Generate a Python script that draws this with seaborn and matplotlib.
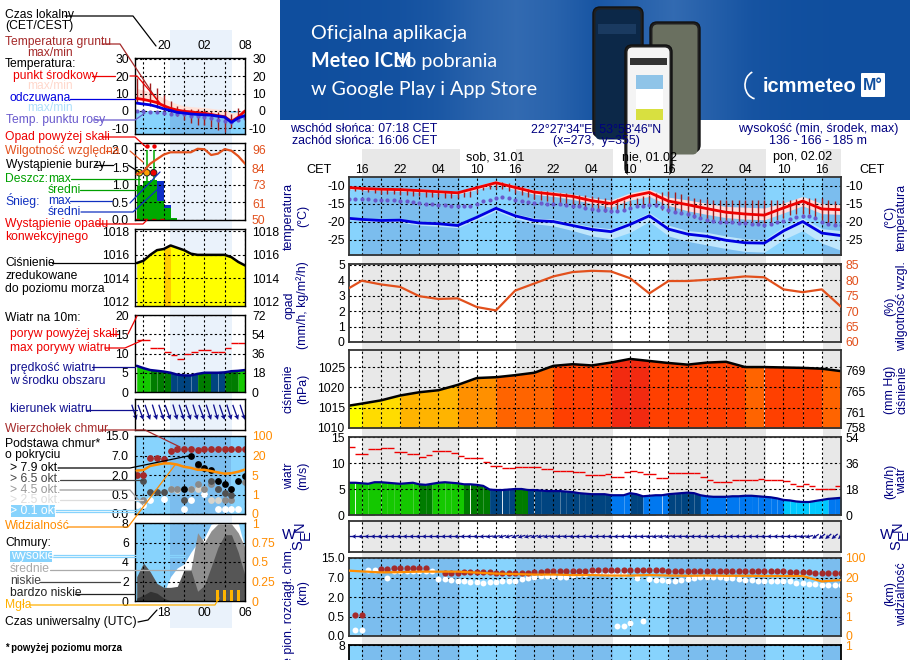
import numpy as np
import seaborn as sns
import matplotlib
matplotlib.use("Agg")
import matplotlib.pyplot as plt
from matplotlib.lines import Line2D
from matplotlib.patches import Rectangle, FancyBboxPatch
from matplotlib.ticker import NullLocator

nan = np.nan
sns.set_theme(style="white")
plt.rcParams['font.family'] = ['Liberation Sans', 'DejaVu Sans']
plt.rcParams['axes.unicode_minus'] = False

# ---------------- main panel data (hour offsets, CET; 16 = first 16:00)
hours3 = [14,16,19,22,25,28,31,34,37,40,43,46,49,52,55,58,61,64,67,70,73,76,79,82,85,88,91]
hours1 = list(range(14, 92))
temp_mid = [-10.5,-10.8,-11,-11.1,-11.4,-11.7,-12,-10.6,-9.2,-10.5,-11.8,-12.4,-13,-14.2,-15,-13,-11.9,-14.3,-15.3,-16.4,-17.4,-17.9,-18.2,-16.2,-14.3,-16.5,-16.7]
temp_hi = [-10.2,-10.4,-10.6,-10.7,-10.9,-11.2,-11.6,-10,-8.6,-9.9,-11.2,-11.7,-12.3,-13.4,-14,-12,-11,-13.2,-14,-14.9,-15.8,-16,-16.2,-14.8,-13,-15,-15.3]
temp_lo = [-10.9,-11.2,-11.4,-11.5,-11.8,-12.1,-12.4,-11.1,-9.7,-11.1,-12.4,-13,-13.8,-15,-16,-14,-13,-15.5,-17,-18,-18.9,-19.3,-19.5,-17.6,-15.6,-17.8,-18]
feel_mid = [-19.1,-19.4,-19.7,-19.6,-20.4,-20.6,-21.1,-18.8,-16.3,-18.4,-19.7,-20,-21.1,-22.2,-22.8,-20.8,-18.4,-22.1,-23.5,-24.1,-25.2,-25.9,-26,-22.6,-20,-23.2,-23.9]
feel_hi = [-18.7,-19,-19.3,-19.2,-20,-20.2,-20.7,-18.2,-15.7,-17.8,-19,-19.3,-20.4,-21.4,-22,-20,-17.5,-21,-22.5,-23,-24,-24.8,-25,-21.5,-19,-22,-22.5]
feel_lo = [-19.5,-19.9,-20.1,-20.2,-21,-21.3,-21.7,-19.5,-17,-19.2,-20.6,-21.2,-22.5,-24,-24.8,-23,-20,-24,-25.5,-26.5,-27.5,-28.3,-28.5,-25,-22.5,-26,-28]
ground_max = [-10.2,-10.4,-10.5,-10.6,-10.7,-10.7,-10.8,-10.8,-10.9,-10.9,
              -11,-11,-11.1,-11.2,-11.3,-11.4,-11.5,-11.6,-11.7,-11.5,
              -10.9,-10.3,-9.7,-9.2,-9,-9.2,-9.7,-10.2,-10.8,-11.1,
              -11.4,-11.6,-11.8,-12,-12.1,-12.3,-12.5,-12.7,-12.9,-13.1,
              -13.4,-13.6,-13.8,-13.9,-14,-13.4,-12.9,-12.5,-12.1,-11.7,
              -11.5,-11.7,-12.3,-12.9,-13.4,-13.7,-13.8,-13.9,-14,-14,
              -14,-14,-14,-14,-14,-14,-14,-14,-14,-14,
              -13.8,-13.6,-13.5,-13.4,-13.5,-14,-14.3,-14.5]
ground_min = [-11.3,-11.5,-11.6,-11.8,-12,-12.2,-12.3,-12.4,-12.5,-12.6,
              -12.8,-13,-13.1,-13.2,-13.3,-13.4,-13.4,-13.4,-13.3,-13.1,
              -12,-11.3,-10.8,-10.8,-11,-11.5,-12,-12.7,-13.2,-13.6,
              -14,-14.3,-14.6,-14.9,-15.2,-15.5,-15.8,-16.1,-16.5,-17,
              -17.2,-17.4,-17,-16.6,-16.3,-15.8,-15.5,-15.5,-16,-16.8,
              -17.2,-17.5,-18,-18.5,-19,-19.4,-19.6,-19.8,-20,-20.2,
              -20.3,-20.3,-20.3,-20.3,-20.3,-20.3,-20,-19.5,-19,-18.3,
              -18,-17.8,-18,-19,-20,-20.6,-21,-21.2]
dew = [-13.6,-13.7,-13.7,-13.8,-13.9,-14,-14,-14.1,-14.2,-14.3,
       -14.5,-14.7,-15,-15.2,-15.3,-15.5,-15.6,-15.7,-15.8,-15.6,
       -15,-14.4,-13.9,-13.5,-13.3,-13.5,-14,-14.4,-14.6,-14.7,
       -14.8,-15,-15.1,-15.2,-15.4,-15.6,-15.8,-16.2,-16.5,-16.8,
       -16.9,-17.1,-17.1,-16.7,-16.2,-15.8,-15.6,-15.5,-15.5,-15.9,
       -16.9,-17.3,-17.7,-18,-18.4,-19,-19.6,-19.8,-20,-20.1,
       -20.2,-20.3,-20.4,-20.6,-20.8,-20.9,-20.7,-20,-19.8,-19.3,
       -18.7,-18.4,-18.5,-19,-20,-20.7,-21,-21]
humidity = [77.4,79.8,78.6,77.8,74.8,73.9,74.1,71.3,70.2,76.6,78.9,81.2,82.6,83,82.8,80.6,75.7,79.7,79.7,80.1,80.6,81.2,80.9,77,76.1,77,71.4]
pressure = [1015.5,1016,1016.8,1018,1018.8,1019.3,1020.6,1022.3,1022.5,1023,1023.6,1025.3,1025.7,1025.4,1026.1,1027,1026.5,1026,1025.6,1026.1,1026.3,1025,1025,1024.9,1024.8,1024.6,1024]
pressure_class = [0,1,1,2,2,2,3,3,4,4,4,5,5,5,6,6,5,5,5,5,5,4,5,5,5,4]
wind = [6.2,6.2,6.1,6.0,6.3,6.3,6.2,6.1,6.0,6.1,
        6.2,5.9,5.8,6.0,6.2,6.3,6.2,6.1,5.9,5.9,
        5.8,5.6,4.9,4.8,4.8,4.9,5.0,5.0,4.8,4.8,
        4.7,4.6,4.6,4.6,4.5,4.4,4.2,4.1,4.0,4.0,
        4.0,3.8,3.8,3.8,4.2,4.0,3.6,3.7,3.8,3.8,
        4.0,4.1,4.2,4.3,4.2,3.8,3.6,3.5,3.5,3.5,
        3.6,3.6,3.7,3.7,3.6,3.5,3.4,3.2,2.9,2.8,
        2.6,2.5,2.5,2.7,2.9,3.1,3.2,3.3]
gust = [13,11.7,11.7,12.7,12.7,12.9,12.9,12.1,12.1,11.7,
        11.7,11.1,11.5,12.3,12.3,12.3,11.9,11.4,11,10.9,
        10.9,10.1,9.5,9.5,9.1,9.1,9.3,9.3,9.3,9.3,
        8.9,8.9,8.5,8.5,8.5,8.2,8.2,7.6,7.6,7.6,
        7.8,7.4,7.4,8.2,8.4,8.2,7.8,7.8,7.1,7.1,
        8,8,8,8,8,7.4,6.8,6.4,6.4,6.4,
        6.7,6.7,6.8,6.8,7,6.7,6.7,6.8,6.5,6,
        5.6,6,5.6,5,5,5,5.6,5.6]
wind_dir = [180,180,181,180,179,180,181,180,180,179,
            180,181,180,180,180,181,180,180,181,180,
            180,183,188,192,195,197,198,197,195,194,
            192,190,188,186,184,182,182,181,181,182,
            181,180,182,183,183,184,185,186,190,192,
            190,186,184,183,182,181,181,180,180,180,
            181,180,181,180,180,181,180,180,181,182,
            184,188,195,215,218,220,220,220]
cloud_top = [nan,.6,.6,nan,nan,10.5,10.5,10.8,10.8,10.8,
             10.8,10.8,10.8,nan,nan,8.8,8.9,8.9,9.2,9.3,
             9.3,9.2,9.2,9,9,9,9,9,9,9.2,
             9.4,9.6,9.8,9.8,9.8,9.8,9.8,9.8,10,10.2,
             10.2,10.2,10.2,10.2,10.2,10.2,10.2,10.2,10.2,10.2,
             9.8,9.8,9.8,9.8,9.8,9.8,9.8,9.8,9.8,9.8,
             9.8,9.8,9.8,9.8,9.8,9.8,9.8,9.8,9.8,9.2,
             9.2,9.2,9.2,9,8.8,8.8,8.8,8.8]
cloud_white = [nan,nan,nan,10,10,10,7,9.8,9.8,9.8,
               9.8,9.8,9.8,9.8,6.6,6.5,6.4,6.2,6,5.9,
               5.8,5.7,5.9,5.8,6,6,6,6.6,6.8,7.2,
               7.7,7.6,7.5,7.2,7.2,8,8.5,8.6,8.8,8.8,
               8.8,8.6,8.6,8.6,nan,7,nan,6.5,6.4,6.3,
               6.2,6.2,6.4,6.6,7,7.4,7.2,7.2,7.2,7,
               6.8,6.6,6.4,6.4,6.2,6.2,6.2,6.2,6.2,6,
               5.6,5.6,5.4,5.3,5.2,5.2,5.2,5.2]
cloud_low = [nan,.15,.15,nan,nan,nan,nan,nan,nan,nan,
             nan,nan,nan,nan,nan,nan,nan,nan,nan,nan,
             nan,nan,nan,nan,nan,nan,nan,nan,nan,nan,
             nan,nan,nan,nan,nan,nan,nan,nan,nan,nan,
             nan,nan,.25,.25,.33,nan,.38,nan,nan,nan,
             nan,nan,nan,nan,nan,nan,nan,nan,nan,nan,
             nan,nan,nan,nan,nan,nan,nan,nan,nan,nan,
             nan,nan,nan,nan,nan,nan,nan,nan]
visibility = [48,45,41,42,44,44,44,40,36,34,32,32,30,30,28,28,30,28,27,28,27,27,26,26,26,17,18]

# ---------------- left legend panel data (hours 16..32)
l_hours = list(range(16, 33))
l_temp = [7.2,6.6,5.8,4.8,3,1.5,.5,-.2,-.5,-1,-1.3,-2,-2.7,-3.3,-6,-3.5,0]
l_temp_hi = [13,12,11,9.5,7.5,5.5,4,3,2.5,2.2,2,1.5,1,1,-1,-.5,1]
l_feel = [4.5,4,3.5,2.5,1.2,.3,-.8,-1.2,-1.7,-2,-2.2,-2.4,-3,-3.5,-6.5,-4,-2.7]
l_feel_lo = [0,0,-.3,-.8,-1.5,-3,-5,-6.5,-8,-9,-10,-11,-12,-13,-14,-11,-7]
l_dew = [0,0,-.3,-.5,-1,-1.5,-1.8,-2,-2.6,-3,-3.5,-4,-5,-5.5,-6.5,-5,-4]
l_ground_max = [19,18,16,13,9,6,3,2,1,1,.5,0,-.5,0,-2,2,1]
l_ground_min = [5,4,3,2,0,-1,-3,-5,-7,-8,-8,-9,-11,-12,-10,-6,-3]
l_rain = [.96,1.1,1.15,.53,.33,.06,0,0,0,0,0,0,0,0,0,0,0]
l_snow = [0,0,0,1.1,.43,0,0,0,0,0,0,0,0,0,0,0,0]
l_hum = [80,82,87,90,93,94.5,94.5,94.5,94.5,96.8,96.5,92.7,93.6,96.6,95.5,92,87]
l_storm_h = [16.4,17.5,18.5]
l_storm_top = [1.35,2.0,2.0]
l_storm_mark = [1.35,1.35,1.35]
l_over_h = [17.5,18.5]
l_over = [2.1,2.1]
l_press = [1015.3,1015.5,1016,1016.4,1016.5,1016.8,1016.6,1016.4,1016.1,1016,1016,1016,1016,1016,1015.8,1015.4,1015.1]
l_wind = [6.8,6.2,5.7,5.5,5.3,5,4.5,4.3,4.3,4.7,5,5,5,5.1,5.4,5.5,5.7]
l_wind_class = [0,0,1,1,1,2,2,2,2,1,1,2,2,1,1,0]
l_gust = [13.4,13.4,11.5,11.5,10.5,9.6,8.7,9.9,10.4,10.8,10.8,10.4,10.4,11.5,12.8,12.8]
l_dir = [-72,-70,-71,-73,-72,-70,-74,-72,-71,-73,-70,-72,-74,-71,-73,-70,-72]
l_top = [2,2,6.4,6.4,6,9,9.8,9.8,9.8,9.2,9.8,9.8,9.8,9.8,9.8,9.8,9.8]
l_black = [nan,nan,nan,nan,nan,nan,nan,.93,7,4.7,3.9,3.4,1.52,1.27,.9,1.57,1.96]
l_dark = [nan,1.57,.68,.68,.68,nan,nan,.37,nan,4.5,nan,1.57,.93,.62,.5,nan,nan]
l_mid = [nan,.37,nan,nan,nan,.93,.93,nan,.93,1.27,.93,1.27,.93,.37,.37,nan,1.5]
l_light = [nan,nan,nan,nan,nan,.9,.85,nan,.9,.9,.9,.37,.37,nan,nan,nan,nan]
l_white = [.24,.24,.37,nan,.39,nan,nan,.13,.37,nan,.56,nan,.13,.13,.13,.13,nan]
l_vis = [8.4,8.8,12,13,13.9,13.9,13,11.3,10.5,9,9,8,7,6,6.4,7.5,9.2]
l_high = [0,0,0,0,.8,2.5,3.4,3.8,5,6,6.5,7.9,8,8,8,8,5.4]
l_medium = [0,0,0,0,0,0,0,1.5,3.2,7,6,7.2,7.9,7.9,7.9,7,5.5]
l_lowc = [2.5,3.9,3,1.8,1.4,1.4,1.5,3.2,3.2,1,1.6,3.5,5.5,6.8,6.8,5,2.6]
l_vlow = [.3,.6,1,.8,.3,0,0,0,0,0,0,0,0,0,0,0,0]
l_fog_h = [28,29,30,31]
l_fog = [.14,.14,.14,.14]

# tick labels
main_x_labels = ["16","22","04","10","16","22","04","10","16","22","04","10","16"]
km_ticks = [0,.5,2,7,15]
vis_ticks = [0,1,5,20,100]

SKY, SKYN = "#87d3fd", "#7bbdee"
ORG, ORANGE = "#e2501c", "#ff8c00"
NAVY = "#000080"
W, H = 910, 660
fig = plt.figure(figsize=(9.1, 6.6), dpi=100, facecolor="white")


def A(x0, y0, x1, y1, frame="black", lw=1.0):
    ax = fig.add_axes([x0/W, 1-y1/H, (x1-x0)/W, (y1-y0)/H])
    ax.patch.set_alpha(0)
    for s in ax.spines.values():
        s.set_color(frame); s.set_linewidth(lw); s.set_zorder(6)
    ax.tick_params(length=0, labelsize=8.7, labelcolor="black", pad=3)
    return ax


def T(x, y, s, color="black", ha="left", va="center", size=8.7, rot=0, **kw):
    fig.text(x/W, 1-y/H, s, color=color, ha=ha, va=va, fontsize=size, rotation=rot, **kw)


def L(pts, color="black", lw=0.9):
    xs = [p[0]/W for p in pts]; ys = [1-p[1]/H for p in pts]
    fig.add_artist(Line2D(xs, ys, color=color, lw=lw, zorder=20))


def line(ax, x, y, color, lw=1.6, **kw):
    sns.lineplot(x=x, y=y, ax=ax, color=color, lw=lw, legend=False, errorbar=None, sort=False, zorder=4, **kw)
    ax.set(xlabel="", ylabel="")


def dots(ax, x, y, color, s=16, zorder=4):
    sns.scatterplot(x=x, y=y, ax=ax, color=color, s=s, linewidth=0, legend=False, zorder=zorder)
    ax.set(xlabel="", ylabel="")


def grid(ax, xt, yt, xlim, ylim, ylabels=None):
    ax.set_xlim(*xlim); ax.set_ylim(*ylim)
    ax.set_xticks(xt); ax.set_xticklabels([])
    ax.set_yticks(yt)
    ax.set_yticklabels(ylabels if ylabels is not None else [str(v) for v in yt])
    ax.yaxis.set_minor_locator(NullLocator())
    ax.grid(True, color="black", lw=0.8, linestyle=(0, (2, 2.2)))
    ax.set_axisbelow(False)


def right(ax, yt, labels, color="black", pad=3, ha="left", scale=None):
    tw = ax.twinx()
    tw.patch.set_alpha(0)
    if scale is not None:
        tw.set_yscale("function", functions=scale)
    tw.set_ylim(*yt[0])
    tw.set_yticks(yt[1]); tw.set_yticklabels(labels)
    tw.yaxis.set_minor_locator(NullLocator())
    tw.tick_params(length=0, labelsize=8.7, labelcolor=color, pad=pad)
    for lab in tw.get_yticklabels():
        lab.set_ha(ha)
    for s in tw.spines.values():
        s.set_visible(False)
    tw.grid(False)
    return tw


def km_fwd(v):
    return np.interp(v, km_ticks, [0,1,2,3,4])
def km_inv(v):
    return np.interp(v, [0,1,2,3,4], km_ticks)
def vis_fwd(v):
    return np.interp(v, vis_ticks, [0,1,2,3,4])
def vis_inv(v):
    return np.interp(v, [0,1,2,3,4], vis_ticks)


# ---------------- backgrounds
bg = fig.add_axes([0, 0, 1, 1], zorder=-5)
bg.set_xlim(0, W); bg.set_ylim(H, 0); bg.axis("off")
bg.add_patch(Rectangle((170, 30), 62, 598, color="#eaf2fb", lw=0))
night = [(16, 31.3), (40.1, 55.3), (64.1, 79.3), (88.1, 91)]
for a, b in night:
    x0 = 362+(a-16)*6.39; x1 = 362+(b-16)*6.39
    bg.add_patch(Rectangle((x0, 149), x1-x0, 511, color="#e8e8e8", lw=0))

# banner
grad_x = np.array([0,.02,.05,.1,.25,.55,.75,.55,.2,.5,.75,.45,.15,.05,.02,0,0])
grad = np.linspace(0, 1, 630)
band = np.interp(grad, np.linspace(0, 1, len(grad_x)), grad_x)
rgb = np.zeros((120, 630, 3))
c0 = np.array([15, 78, 158])/255; c1 = np.array([62, 116, 184])/255
for i in range(3):
    rgb[:, :, i] = c0[i] + (c1[i]-c0[i])*band
bg.imshow(rgb, extent=(280, 910, 120, 0), aspect="auto", zorder=0)
bg.set_xlim(0, W); bg.set_ylim(H, 0)
for (px, py, pw, pface) in [(593, 7, 50, "#0c2848"), (650, 22, 50, "#6a7060"), (625, 45, 47, "#f4f4f4")]:
    bg.add_patch(FancyBboxPatch((px, py), pw, 130, boxstyle="round,pad=0,rounding_size=7", fc="#202020", ec="#111111", lw=1, zorder=1))
    bg.add_patch(FancyBboxPatch((px+2.5, py+2.5), pw-5, 130, boxstyle="round,pad=0,rounding_size=5", fc=pface, ec="none", zorder=1))
bg.add_patch(Rectangle((636, 75), 27, 14, color="#8fc4e8", lw=0, zorder=2))
bg.add_patch(Rectangle((636, 89), 27, 20, color="#ffffff", lw=0, zorder=2))
bg.add_patch(Rectangle((636, 109), 27, 11, color="#d8e040", lw=0, zorder=2))
bg.add_patch(Rectangle((630, 58), 37, 7, color="#333333", lw=0, zorder=2))
bg.add_patch(Rectangle((598, 24), 38, 10, color="#1a3a60", lw=0, zorder=2))
bg.add_patch(Rectangle((280, 120), 630, 0.01, color="white", lw=0))
bg.add_patch(FancyBboxPatch((861, 73), 24, 24, boxstyle="round,pad=0,rounding_size=1", fc="white", ec="none", zorder=2))
bg.set_xlim(0, W); bg.set_ylim(H, 0)

T(311, 33, "Oficjalna aplikacja", "white", size=14.2, family="Lato")
T(311, 61, "Meteo ICM", "white", size=14.2, family="Lato", weight="bold")
T(394, 61, "do pobrania", "white", size=14.2, family="Lato")
T(311, 89, "w Google Play i App Store", "white", size=14.2, family="Lato")
T(763, 86, "icmmeteo", "white", size=14.5, family="Liberation Sans", weight="bold")
T(873, 85, "M°", "#0f4e9e", ha="center", size=11.5, weight="bold")
fig.add_artist(matplotlib.patches.Arc((757/W*9.1, (660-85)/660*6.6), 0.24, 0.28, theta1=110, theta2=260,
                                      transform=fig.dpi_scale_trans, color="white", lw=1.2))

# ---------------- main panels
MX = (14, 91)
mt = list(range(16, 92, 3))
P = (349, 841)

# temperature
ax = A(P[0], 177, P[1], 255, "#333333", 1.3)
ax.fill_between([14, 91], -40, 5, color=SKY, lw=0, zorder=0)
for a, b in night:
    ax.fill_between([a, b], -40, 5, color=SKYN, lw=0, zorder=0.5)
ax.fill_between(hours3, feel_lo, feel_hi, color="#bfe6fc", lw=0, zorder=1)
ax.fill_between(hours3, temp_lo, temp_hi, color="#ffdcdc", lw=0, zorder=1)
ax.vlines(hours1, ground_min, ground_max, color="#a01c1c", lw=1.0, zorder=3)
dots(ax, hours1, dew, "#6a5acd", s=9)
line(ax, hours3, temp_mid, "#ee0000", lw=2.0)
line(ax, hours3, feel_mid, "#0000e0", lw=2.0)
grid(ax, mt, [-10,-15,-20,-25], MX, (-29.3, -7.6))
ax.set_xticks(mt)
ax.xaxis.tick_top()
ax.set_xticklabels([main_x_labels[i//2] if i % 2 == 0 else "" for i in range(len(mt))])
ax.tick_params(axis="x", labeltop=True, labelbottom=False, pad=1)
right(ax, ((-29.3, -7.6), [-10,-15,-20,-25]), ["-10","-15","-20","-25"])

# precipitation / humidity
ax = A(P[0], 264, P[1], 342, "#333333", 1.3)
grid(ax, mt, [0,1,2,3,4,5], MX, (0, 5.04))
tw = right(ax, ((60, 85.2), [60,65,70,75,80,85]), ["60","65","70","75","80","85"], ORG)
line(tw, hours3, humidity, ORG, lw=1.6)
tw.set_ylim(60, 85.2)

# pressure
ax = A(P[0], 350, P[1], 428, "#333333", 1.3)
press_colors = ["#ffff00","#ffdc00","#ffb400","#ff9000","#ff6400","#ff4000","#f22a10"]
for i, c in enumerate(pressure_class):
    ax.fill_between(hours3[i:i+2], 1000, pressure[i:i+2], color=press_colors[c], lw=0, zorder=1)
line(ax, hours3, pressure, "black", lw=1.8)
grid(ax, mt, [1010,1015,1020,1025], MX, (1010, 1029.2))
right(ax, ((758, 773), [758,761,765,769]), ["758","761","765","769"])

# wind
ax = A(P[0], 437, P[1], 515, "#333333", 1.3)
wc = ["#14c800", "#007c00", "#004480", "#0078f0", "#00c8ff"]
def wind_color(v):
    return wc[0] if v >= 5.95 else wc[1] if v >= 4.95 else wc[2] if v >= 3.9 else wc[3] if v >= 3.0 else wc[4]
for i in range(len(hours1)-1):
    ax.fill_between(hours1[i:i+2], 0, wind[i:i+2], color=wind_color(wind[i]), lw=0, zorder=1)
ax.hlines(gust, hours1, np.array(hours1)+1, color="#ee0000", lw=1.0, zorder=4)
line(ax, hours1, wind, "#000090", lw=1.6)
grid(ax, mt, [0,5,10,15], MX, (0, 15))
right(ax, ((0, 54), [0,18,36,54]), ["0","18","36","54"])

# wind direction
ax = A(P[0], 521, P[1], 552, "#333333", 1.3)
rad = np.deg2rad(wind_dir)
ax.quiver(hours1, np.zeros(len(hours1)), 8*np.cos(rad), 8*np.sin(rad), angles="uv", scale_units="dots", scale=1,
          units="dots", width=1.3, headwidth=3.5, headlength=3.5, headaxislength=3, pivot="mid", color="#101090", zorder=4)
grid(ax, mt, [], MX, (-1, 1))

# clouds / visibility
ax = A(P[0], 558, P[1], 636, "#333333", 1.3)
ax.set_yscale("function", functions=(km_fwd, km_inv))
ax.fill_between([14, 91], 0, 15, color=SKY, lw=0, zorder=0)
for a, b in night:
    ax.fill_between([a, b], 0, 15, color=SKYN, lw=0, zorder=0.5)
dots(ax, hours1, cloud_white, "white", s=18)
dots(ax, hours1, cloud_low, "white", s=18)
dots(ax, hours1, cloud_top, "#a52a2a", s=20)
grid(ax, mt, km_ticks, MX, (0, 15), ["0.0","0.5","2.0","7.0","15.0"])
tw = right(ax, ((0, 100), vis_ticks), ["0","1","5","20","100"], ORANGE, scale=(vis_fwd, vis_inv))
line(tw, hours3, visibility, ORANGE, lw=1.6)
tw.set_ylim(0, 100)

# cloud fraction (runs off the bottom of the picture)
ax = A(P[0], 645, P[1], 723, "black", 1.3)
ax.fill_between([14, 91], 0, 8, color=SKY, lw=0, zorder=0)
for a, b in night:
    ax.fill_between([a, b], 0, 8, color=SKYN, lw=0, zorder=0.5)
grid(ax, mt, [0,2,4,6,8], MX, (0, 8))
right(ax, ((0, 1), [0,.25,.5,.75,1]), ["0","0.25","0.5","0.75","1"], ORANGE)

# ---------------- left panels
LX = (15.75, 32)
lt = [17, 20, 23, 26, 29, 32]
Q = (135, 245)

# temperature
ax = A(Q[0], 58, Q[1], 134)
ax.fill_between([15.75, 32], -13.4, 0, color=SKY, lw=0, zorder=0)
ax.fill_between([20.9, 30], -13.4, 0, color=SKYN, lw=0, zorder=0.5)
ax.fill_between(l_hours, l_feel_lo, l_feel, color="#bfe6fc", lw=0, zorder=1, where=[True]*5+[True]*12, alpha=0)
ax.fill_between(l_hours, l_temp, l_temp_hi, color="#ffe2d8", lw=0, zorder=1)
ax.fill_between(l_hours, l_feel, l_temp, color="#ffe2d8", lw=0, zorder=1, alpha=0)
ax.vlines(l_hours, l_ground_min, l_ground_max, color="#a01c1c", lw=1.0, zorder=3)
dots(ax, l_hours, l_dew, "#6a5acd", s=9)
line(ax, l_hours, l_temp, "#ee0000", lw=2.0)
line(ax, l_hours, l_feel, "#0000e0", lw=2.0)
grid(ax, lt, [-10,0,10,20,30], LX, (-13.2, 30.4))
ax.set_xticks(lt)
ax.xaxis.tick_top()
ax.set_xticklabels(["", "20", "", "02", "", "08"])
ax.tick_params(axis="x", labeltop=True, labelbottom=False, pad=4)
ax.tick_params(axis="y", pad=4.5)
right(ax, ((-13.2, 30.4), [-10,0,10,20,30]), ["-10","0","10","20","30"], pad=15, ha="right")

# precipitation
ax = A(Q[0], 143, Q[1], 220)
ax.bar(np.array(l_hours)+.5, np.array(l_rain)+np.array(l_snow)*0, width=1, color="#00aa00", lw=0, zorder=1)
ax.bar(np.array(l_hours)+.5, np.maximum(np.array(l_snow)-np.array(l_rain), 0), bottom=l_rain, width=1, color="#1030c8", lw=0, zorder=1)
ax.vlines(l_storm_h, l_rain[:3], l_storm_top, color="#00aa00", lw=1.1, zorder=3)
ax.hlines([.02], 15.75, 20.2, color="#ee0000", lw=1, linestyle=(0, (3, 3)), zorder=4)
grid(ax, lt, [0,.5,1,1.5,2], LX, (0, 2.2), ["0.0","0.5","1.0","1.5","2.0"])
ax.tick_params(axis="y", pad=4.5)
dots(ax, l_over_h, l_over, "#ee0000", s=10, zorder=5)
ax.scatter(l_storm_h, l_storm_mark, c=["#ffe000", "#ffa000", "#ee0000"], s=22, edgecolor="#222222", linewidth=.7, zorder=5)
tw = right(ax, ((50, 100.6), [50,61,73,84,96]), ["50","61","73","84","96"], ORG, pad=5)
line(tw, l_hours, l_hum, ORG, lw=1.6)
tw.set_ylim(50, 100.6)

# pressure
ax = A(Q[0], 229, Q[1], 306)
ax.fill_between(l_hours, 1000, l_press, color="#ffff00", lw=0, zorder=1)
ax.fill_between(l_hours[4:6], 1000, l_press[4:6], color="#ffcc00", lw=0, zorder=1.5)
line(ax, l_hours, l_press, "black", lw=1.8)
grid(ax, lt, [1012,1014,1016,1018], LX, (1011.65, 1018.2))
ax.tick_params(axis="y", pad=4.5)
right(ax, ((1011.65, 1018.2), [1012,1014,1016,1018]), ["1012","1014","1016","1018"], pad=5)

# wind
ax = A(Q[0], 315, Q[1], 392)
lwc = ["#14c800", "#007c00", "#004480"]
for i, c in enumerate(l_wind_class):
    ax.fill_between(l_hours[i:i+2], 0, l_wind[i:i+2], color=lwc[c], lw=0, zorder=1)
ax.hlines(l_gust, l_hours[:-1], np.array(l_hours[:-1])+1, color="#ee0000", lw=1.0, zorder=4)
line(ax, l_hours, l_wind, "#000090", lw=1.8)
grid(ax, lt, [0,5,10,15,20], LX, (0, 20))
ax.tick_params(axis="y", pad=4.5)
right(ax, ((0, 72), [0,18,36,54,72]), ["0","18","36","54","72"], pad=5)

# wind direction
ax = A(Q[0], 399, Q[1], 430)
rad = np.deg2rad(l_dir)
ax.quiver(l_hours, np.full(len(l_hours), -.35), 16*np.cos(rad), 16*np.sin(rad), angles="uv", scale_units="dots", scale=1,
          units="dots", width=1.3, headwidth=4, headlength=4, headaxislength=3.5, pivot="tip", color="#101090", zorder=4, clip_on=False)
grid(ax, lt, [], LX, (-1, 1))

# clouds
ax = A(Q[0], 436, Q[1], 514)
ax.set_yscale("function", functions=(km_fwd, km_inv))
ax.fill_between([15.75, 32], 0, 15, color=SKY, lw=0, zorder=0)
ax.fill_between([20.9, 30], 0, 15, color=SKYN, lw=0, zorder=0.5)
dots(ax, l_hours, l_white, "white", s=24)
dots(ax, l_hours, l_light, "#d8d4cc", s=24)
dots(ax, l_hours, l_mid, "#8a8a8a", s=24)
dots(ax, l_hours, l_dark, "#505050", s=24)
dots(ax, l_hours, l_black, "black", s=24)
dots(ax, l_hours, l_top, "#a52a2a", s=24)
grid(ax, lt, km_ticks, LX, (0, 15), ["0.0","0.5","2.0","7.0","15.0"])
ax.tick_params(axis="y", pad=4.5)
tw = right(ax, ((0, 100), vis_ticks), ["0","1","5","20","100"], ORANGE, pad=5, scale=(vis_fwd, vis_inv))
line(tw, l_hours, l_vis, ORANGE, lw=1.8)
tw.set_ylim(0, 100)

# cloud cover
ax = A(Q[0], 523, Q[1], 601)
ax.fill_between([15.75, 32], 0, 8, color=SKY, lw=0, zorder=0)
ax.fill_between([20.9, 30], 0, 8, color=SKYN, lw=0, zorder=0.5)
ax.fill_between(l_hours, 0, l_high, color="white", lw=0, zorder=1)
ax.fill_between(l_hours, 0, l_medium, color="#8f8f8f", lw=0, zorder=1.2)
ax.fill_between(l_hours, 0, l_lowc, color="#565656", lw=0, zorder=1.4)
ax.fill_between(l_hours, 0, l_vlow, color="#333333", lw=0, zorder=1.6)
grid(ax, lt, [0,2,4,6,8], LX, (0, 8))
ax.set_xticks(lt)
ax.set_xticklabels(["", "18", "", "00", "", "06"])
ax.tick_params(axis="x", labelbottom=True, pad=4)
ax.tick_params(axis="y", pad=4.5)
tw = right(ax, ((0, 1), [0,.25,.5,.75,1]), ["0","0.25","0.5","0.75","1"], ORANGE, pad=5)
tw.bar(l_fog_h, l_fog, width=.45, color="#ffb400", lw=0, zorder=4)
tw.set_ylim(0, 1)

# ---------------- header and axis captions
T(290, 129, "wschód słońca: 07:18 CET", NAVY, size=8.9)
T(292, 141, "zachód słońca: 16:06 CET", NAVY, size=8.9)
T(596, 129, "22°27'34\"E, 53°58'46\"N", NAVY, ha="center", size=8.9)
T(596, 141, "(x=273,  y=355)", NAVY, ha="center", size=8.9)
T(818, 129, "wysokość (min, środek, max)", NAVY, ha="center", size=8.9)
T(818, 141, "136 - 166 - 185 m", NAVY, ha="center", size=8.9)
T(319, 170, "CET", ha="center", size=9.2)
T(872, 170, "CET", ha="center", size=9.2)
T(495, 157, "sob, 31.01", ha="center", size=9)
T(649, 157, "nie, 01.02", ha="center", size=9)
T(803, 157, "pon, 02.02", ha="center", size=9)

for x0, x1, s0, s1, y, y1 in [
    (289, 303, "temperatura", "(°C)", 216, 216),
    (289, 303, "opad", "(mm/h, kg/m²/h)", 305, 305),
    (289, 303, "ciśnienie", "(hPa)", 389, 389),
    (289, 303, "wiatr", "(m/s)", 476, 476),
]:
    T(x0, y, s0, NAVY, ha="center", rot=90, size=8.9)
    T(x1, y1, s1, NAVY, ha="center", rot=90, size=8.9)
T(289, 547, "e pion. rozciągł. chm.", NAVY, ha="center", va="top", rot=90, size=8.9)
T(303, 593, "(km)", NAVY, ha="center", rot=90, size=8.9)
for s0, s1, y in [("(°C)", "temperatura", 217), ("(%)", "wilgotność wzgl.", 306), ("(mm Hg)", "ciśnienie", 390),
                  ("(km/h)", "wiatr", 481), ("(km)", "widzialność", 594)]:
    T(890, y, s0, NAVY, ha="center", rot=90, size=8.9)
    T(902, y, s1, NAVY, ha="center", rot=90, size=8.9)
for wx, nx, ex in [(289, 300, 306), (887, 898, 904)]:
    T(wx, 535, "W", NAVY, ha="center", size=10.5)
    T(nx, 527, "N", NAVY, ha="center", size=10.5, rot=90)
    T(nx-2, 545, "S", NAVY, ha="center", size=10.5, rot=90)
    T(ex, 535, "E", NAVY, ha="center", size=10.5, rot=90)

# ---------------- left legend
RED = "#ee0000"; BRN = "#a52a2a"; BLU = "#0000e0"; DBL = "#101090"; GRN = "#00a000"; SBL = "#1030c0"
T(5, 15, "Czas lokalny"); T(5, 26, "(CET/CEST)")
L([(65, 16), (133, 16), (156, 46)])
T(5, 42, "Temperatura gruntu", BRN); T(27, 53, "max/min", BRN)
L([(102, 44), (120, 44), (157, 100)], BRN)
T(5, 64, "Temperatura:")
T(13, 76, "punkt środkowy", RED)
L([(92, 76), (115, 76)], RED); L([(130, 76), (137, 76), (160, 103)], RED)
T(27, 86, "max/min", "#ffd8cc")
T(10, 98, "odczuwana", BLU); L([(70, 99), (135, 99)], BLU)
T(27, 108, "max/min", "#aee0fb")
T(6, 120, "Temp. punktu rosy", "#6a5acd"); L([(93, 120), (135, 120), (145, 113)], "#6a5acd")
T(5, 137, "Opad powyżej skali", RED); L([(102, 137), (135, 137), (146, 147)], RED)
T(5, 151, "Wilgotność względna", ORG); L([(106, 151), (110, 151)], ORG); L([(130, 151), (143, 162)], ORG)
T(6, 165, "Wystąpienie burzy"); L([(95, 165), (113, 165)]); L([(128, 165), (139, 172)])
T(5, 179, "Deszcz:", GRN); T(48, 179, "max", GRN); L([(71, 179), (140, 179)], GRN)
T(48, 190, "średni", GRN); L([(80, 190), (138, 190)], GRN)
T(5, 201, "Śnieg:", SBL); T(48, 201, "max", SBL); L([(70, 201), (112, 201)], SBL); L([(130, 203), (160, 172)], SBL)
T(48, 212, "średni", SBL); L([(81, 212), (133, 212), (160, 187)], SBL)
T(5, 224, "Wystąpienie opadu", RED); L([(96, 224), (143, 224), (147, 220)], RED)
T(5, 237, "konwekcyjnego", RED)
T(5, 263, "Ciśnienie"); L([(52, 263), (135, 263)])
T(5, 276, "zredukowane"); T(5, 289, "do poziomu morza")
T(5, 318, "Wiatr na 10m:")
T(10, 334, "poryw powyżej skali", RED); L([(110, 334), (118, 334)], RED); L([(128, 334), (137, 316)], RED)
T(10, 348, "max porywy wiatru", RED); L([(105, 348), (125, 348), (143, 340)], RED)
T(10, 368, "prędkość wiatru", DBL); L([(92, 367), (135, 367)], DBL)
T(10, 381, "w środku obszaru", DBL)
T(10, 409, "kierunek wiatru", DBL); L([(86, 410), (137, 410)], DBL)
T(5, 429, "Wierzchołek chmur", BRN); L([(100, 430), (145, 430), (180, 447)], BRN)
T(5, 444, "Podstawa chmur*"); T(5, 455, "o pokryciu")
T(10, 468, "> 7.9 okt."); L([(58, 468), (130, 468), (188, 456)])
T(10, 479, "> 6.5 okt.", "#444444"); L([(60, 480), (143, 480)], "#444444")
T(10, 490, "> 4.5 okt.", "#999999"); L([(60, 490), (130, 490), (143, 505)], "#999999")
T(10, 500, "> 2.5 okt.", "#dddddd"); L([(60, 500), (143, 500)], "#dddddd")
fig.patches.append(Rectangle((11/W, 1-517/H), 44/W, 12/H, transform=fig.transFigure, color=SKY, lw=0, zorder=15))
T(10, 511, "> 0.1 okt.", "white", zorder=21)
L([(55, 510), (135, 510)], SKY); L([(55, 512), (135, 512)], SKY)
T(5, 526, "Widzialność", ORANGE); L([(67, 527), (128, 527), (175, 465)], ORANGE)
T(5, 543, "Chmury:")
fig.patches.append(Rectangle((10/W, 1-562/H), 42/W, 11/H, transform=fig.transFigure, color=SKY, lw=0, zorder=15))
T(11, 556, "wysokie", "white", zorder=21)
L([(52, 555), (185, 555)], SKY); L([(52, 557), (185, 557)], SKY)
T(10, 569, "średnie", "#aaaaaa"); L([(50, 570), (190, 570)], "#aaaaaa")
T(10, 581, "niskie", "#444444"); L([(40, 582), (120, 582)], "#444444")
T(10, 593, "bardzo niskie", "#222222"); L([(75, 594), (135, 594)], "#222222")
T(5, 605, "Mgła", "#ffb000"); L([(30, 605), (215, 605), (219, 598)], "#ffb000")
T(5, 622, "Czas uniwersalny (UTC)"); L([(138, 622), (148, 620), (157, 610)])
T(5, 648, "* powyżej poziomu morza", size=6.9, weight="bold")

fig.savefig("out.png", dpi=100, facecolor="white")
